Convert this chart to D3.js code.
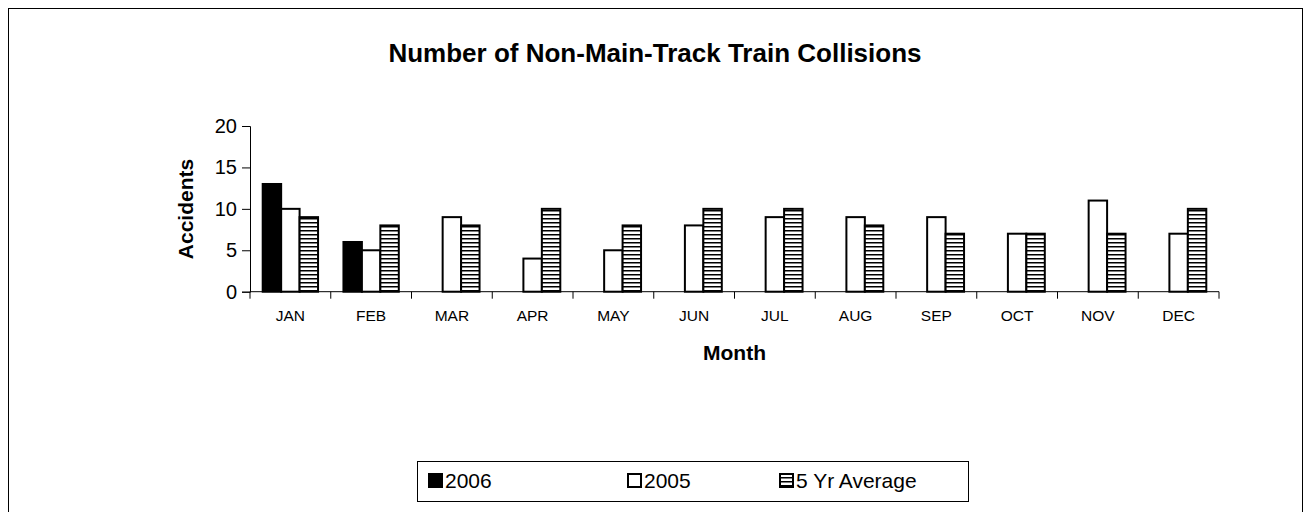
<!DOCTYPE html>
<html>
<head>
<meta charset="utf-8">
<script src="https://cdn.jsdelivr.net/npm/d3@7"></script>
<style>
    body { margin: 0; background: #fff; }
    text { font-family: Arial, "Liberation Sans", sans-serif; fill: #000; }
</style>
</head>
<body>
<svg width="1304" height="512" class="chart"></svg>
<script>

var months = ["JAN", "FEB", "MAR", "APR", "MAY", "JUN", "JUL", "AUG", "SEP", "OCT", "NOV", "DEC"];
var seriesNames = ["2006", "2005", "5 Yr Average"];
var values2006 = [13, 6, null, null, null, null, null, null, null, null, null, null];
var values2005 = [10, 5, 9, 4, 5, 8, 9, 9, 9, 7, 11, 7];
var valuesAvg = [9, 8, 8, 10, 8, 10, 10, 8, 7, 7, 7, 10];
var yTicks = [0, 5, 10, 15, 20];

var svg = d3.select("svg.chart");

// pattern for the 5 yr average bars
var defs = svg.append("defs");
var pat = defs.append("pattern")
    .attr("id", "hstripe")
    .attr("patternUnits", "userSpaceOnUse")
    .attr("width", 8)
    .attr("height", 4);
pat.append("rect").attr("width", 8).attr("height", 4).attr("fill", "#fff");
pat.append("rect").attr("y", 0).attr("width", 8).attr("height", 1.5).attr("fill", "#000");

// outer frame
svg.append("rect")
    .attr("x", 8.5).attr("y", 8.5)
    .attr("width", 1294).attr("height", 520)
    .attr("fill", "none")
    .attr("stroke", "#000")
    .attr("stroke-width", 1);

var margin = {top: 126, left: 250},
    width = 969,
    height = 165.7;

var x = d3.scaleBand()
    .domain(months)
    .range([0, width]);

var inner = d3.scaleBand()
    .domain(seriesNames)
    .range([12.7, x.bandwidth() - 12.7]);

var y = d3.scaleLinear()
    .domain([0, 20])
    .range([height, 0]);

var g = svg.append("g")
    .attr("transform", "translate(" + margin.left + "," + margin.top + ")");

svg.append("text")
    .attr("x", 655)
    .attr("y", 62)
    .attr("text-anchor", "middle")
    .style("font-size", "26px")
    .style("font-weight", "bold")
    .text("Number of Non-Main-Track Train Collisions");

var rows = months.map(function(m, i) {
    return {month: m, vals: [values2006[i], values2005[i], valuesAvg[i]]};
});

var fills = ["#000", "#fff", "url(#hstripe)"];

var groups = g.selectAll("g.month")
    .data(rows)
    .enter().append("g")
    .attr("class", "month")
    .attr("transform", function(d) { return "translate(" + x(d.month) + ",0)"; });

groups.selectAll("rect")
    .data(function(d) {
        return d.vals.map(function(v, j) { return {name: seriesNames[j], value: v, j: j}; })
            .filter(function(e) { return e.value != null; });
    })
    .enter().append("rect")
    .attr("x", function(d) { return inner(d.name); })
    .attr("y", function(d) { return y(d.value); })
    .attr("width", inner.bandwidth())
    .attr("height", function(d) { return y(0) - y(d.value); })
    .attr("fill", function(d) { return fills[d.j]; })
    .attr("stroke", "#000")
    .attr("stroke-width", 2);

// y axis
var yAxis = d3.axisLeft(y).tickValues(yTicks).tickSize(8).tickPadding(5);
var ya = g.append("g").call(yAxis);
ya.select(".domain").attr("stroke", "#000");
ya.selectAll("text").style("font-size", "20px").attr("fill", "#000");

// x axis: ticks between categories
var xa = g.append("g").attr("transform", "translate(0," + height + ")");
xa.append("line")
    .attr("x1", 0).attr("x2", width)
    .attr("stroke", "#000");
xa.selectAll("line.sep")
    .data(d3.range(months.length + 1))
    .enter().append("line")
    .attr("class", "sep")
    .attr("x1", function(i) { return i * x.step(); })
    .attr("x2", function(i) { return i * x.step(); })
    .attr("y1", 0).attr("y2", 7)
    .attr("stroke", "#000");
xa.selectAll("text")
    .data(months)
    .enter().append("text")
    .attr("x", function(d) { return x(d) + x.bandwidth() / 2; })
    .attr("y", 29)
    .attr("text-anchor", "middle")
    .style("font-size", "15.5px")
    .text(function(d) { return d; });

svg.append("text")
    .attr("x", margin.left + width / 2)
    .attr("y", 360)
    .attr("text-anchor", "middle")
    .style("font-size", "21px")
    .style("font-weight", "bold")
    .text("Month");

svg.append("text")
    .attr("transform", "translate(193,209) rotate(-90)")
    .attr("text-anchor", "middle")
    .style("font-size", "21px")
    .style("font-weight", "bold")
    .text("Accidents");

// legend
var legend = svg.append("g").attr("transform", "translate(417,461)");
legend.append("rect")
    .attr("x", 0.5).attr("y", 0.5)
    .attr("width", 551).attr("height", 40)
    .attr("fill", "#fff")
    .attr("stroke", "#000");

var legX = [12, 211, 363];
var items = legend.selectAll("g.item")
    .data(seriesNames)
    .enter().append("g")
    .attr("class", "item")
    .attr("transform", function(d, i) { return "translate(" + legX[i] + ",0)"; });

items.append("rect")
    .attr("x", 0).attr("y", 13)
    .attr("width", 13).attr("height", 13)
    .attr("fill", function(d, i) { return i === 2 ? "url(#hstripe)" : fills[i]; })
    .attr("stroke", "#000")
    .attr("stroke-width", 2);

items.append("text")
    .attr("x", 16)
    .attr("y", 27)
    .style("font-size", "21px")
    .text(function(d) { return d; });

</script>
</body>
</html>
